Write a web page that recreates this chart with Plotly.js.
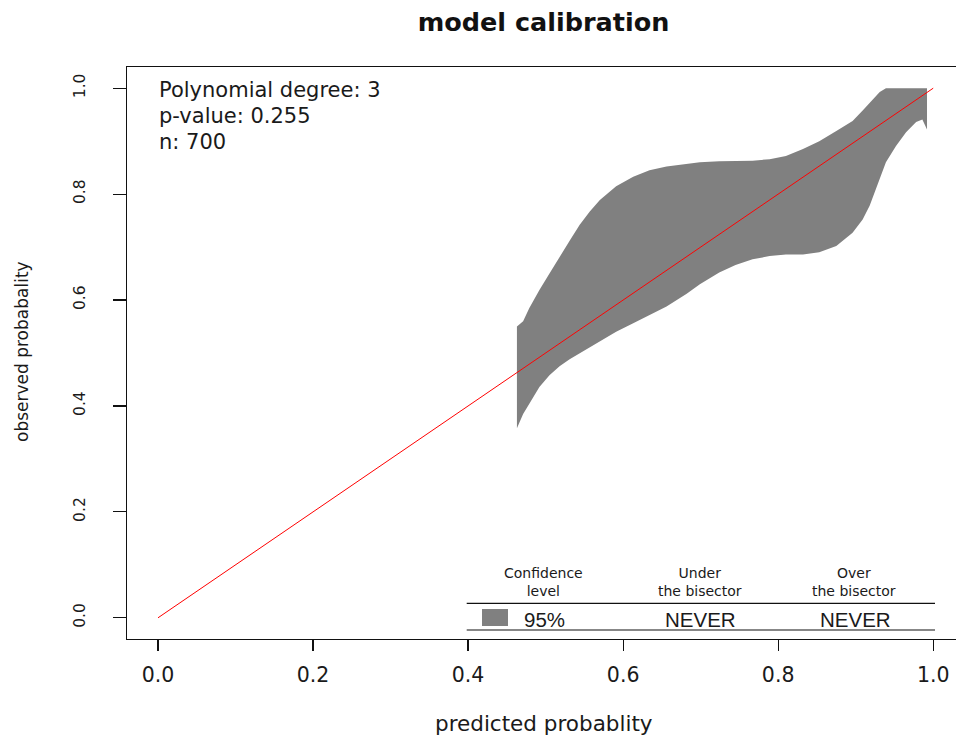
<!DOCTYPE html>
<html>
<head>
<meta charset="utf-8">
<script src="https://cdn.plot.ly/plotly-3.0.1.min.js"></script>
<style>html,body{margin:0;padding:0;background:#fff;}#chart{width:956px;height:736px;}</style>
</head>
<body>
<div id="chart"></div>
<script>
// ---- data ----
var bandX = [0.463, 0.471, 0.479, 0.492, 0.505, 0.518, 0.531, 0.544, 0.557, 0.570, 0.591, 0.613, 0.634, 0.656, 0.682, 0.699, 0.724, 0.745, 0.767, 0.789, 0.810, 0.832, 0.853, 0.875, 0.896, 0.909, 0.918, 0.931, 0.939, 0.952, 0.965, 0.978, 0.986, 0.992];
var bandUpper = [0.550, 0.560, 0.585, 0.619, 0.650, 0.682, 0.712, 0.742, 0.767, 0.789, 0.815, 0.833, 0.845, 0.852, 0.857, 0.860, 0.862, 0.863, 0.863, 0.866, 0.872, 0.885, 0.900, 0.919, 0.938, 0.958, 0.973, 0.993, 1.0, 1.0, 1.0, 1.0, 1.0, 1.0];
var bandLower = [0.358, 0.385, 0.404, 0.436, 0.458, 0.475, 0.488, 0.499, 0.510, 0.522, 0.540, 0.556, 0.572, 0.588, 0.612, 0.630, 0.652, 0.666, 0.677, 0.683, 0.686, 0.686, 0.690, 0.702, 0.727, 0.752, 0.778, 0.828, 0.860, 0.891, 0.917, 0.936, 0.941, 0.922];
var bisectorX = [0, 1];
var bisectorY = [0, 1];
var tickVals = [0, 0.2, 0.4, 0.6, 0.8, 1.0];
var tickText = ['0.0', '0.2', '0.4', '0.6', '0.8', '1.0'];
var infoLines = ['Polynomial degree: 3', 'p-value: 0.255', 'n: 700'];
var tableHeaders = ['Confidence<br>level', 'Under<br>the bisector', 'Over<br>the bisector'];
var tableRow = ['95%', 'NEVER', 'NEVER'];

// ---- layout helpers (pixel -> paper) ----
var W = 956, H = 736, ML = 127, MR = 0, MT = 67, MB = 97;
var PW = W - ML - MR, PH = H - MT - MB;
function px(x) { return (x - ML) / PW; }
function py(y) { return (H - MB - y) / PH; }
var FONT = 'DejaVu Sans';
var TXT = '#1a1a1a';

var traces = [
  {x: bandX, y: bandLower, type: 'scatter', mode: 'lines', line: {width: 0, color: '#808080'}, hoverinfo: 'skip', showlegend: false},
  {x: bandX, y: bandUpper, type: 'scatter', mode: 'lines', fill: 'tonexty', fillcolor: '#808080', line: {width: 0, color: '#808080'}, hoverinfo: 'skip', showlegend: false},
  {x: bisectorX, y: bisectorY, type: 'scatter', mode: 'lines', line: {width: 1, color: '#ff0000'}, showlegend: false}
];

var annotations = [];
// info lines
var infoY = [90, 116, 142];
infoLines.forEach(function (t, i) {
  annotations.push({text: t, xref: 'paper', yref: 'paper', x: px(157), y: py(infoY[i]), xanchor: 'left', yanchor: 'middle', showarrow: false, font: {family: FONT, size: 21, color: TXT}});
});
// table
var colX = [543, 700, 854];
tableHeaders.forEach(function (t, i) {
  annotations.push({text: t, xref: 'paper', yref: 'paper', x: px(colX[i]), y: py(582), xanchor: 'center', yanchor: 'middle', showarrow: false, font: {family: FONT, size: 14, color: TXT}});
});
var rowX = [544, 700, 855];
tableRow.forEach(function (t, i) {
  annotations.push({text: t, xref: 'paper', yref: 'paper', x: px(rowX[i]), y: py(619), xanchor: 'center', yanchor: 'middle', showarrow: false, font: {family: 'Liberation Sans', size: 20.5, color: TXT}});
});
// axis titles
annotations.push({text: 'predicted probablity', xref: 'paper', yref: 'paper', x: px(544), y: py(723), xanchor: 'center', yanchor: 'middle', showarrow: false, font: {family: FONT, size: 21.5, color: TXT}});
annotations.push({text: 'observed probabality', xref: 'paper', yref: 'paper', x: px(22), y: py(352), xanchor: 'center', yanchor: 'middle', textangle: -90, showarrow: false, font: {family: FONT, size: 17, color: TXT}});

var shapes = [
  {type: 'line', xref: 'paper', yref: 'paper', x0: px(466.7), x1: px(935), y0: py(603.3), y1: py(603.3), line: {color: '#111', width: 1.2}},
  {type: 'line', xref: 'paper', yref: 'paper', x0: px(466.7), x1: px(935), y0: py(630), y1: py(630), line: {color: '#111', width: 1.2}},
  {type: 'rect', xref: 'paper', yref: 'paper', x0: px(482), x1: px(508), y0: py(626), y1: py(609), fillcolor: '#808080', line: {width: 0}}
];

var layout = {
  width: W, height: H,
  margin: {l: ML, r: MR, t: MT, b: MB, pad: 0},
  paper_bgcolor: '#ffffff', plot_bgcolor: '#ffffff',
  showlegend: false,
  title: {text: 'model calibration', x: 543.5 / W, xanchor: 'center', xref: 'container', y: 1 - 22 / H, yref: 'container', yanchor: 'middle', font: {family: FONT, size: 25.5, weight: 'bold', color: '#111'}},
  xaxis: {
    range: [-0.04, -0.04 + PW / 775.2], fixedrange: true,
    showgrid: false, zeroline: false, showline: true, mirror: true, linecolor: '#111', linewidth: 1.2,
    ticks: 'outside', ticklen: 11, tickwidth: 1.2, tickcolor: '#111',
    tickvals: tickVals, ticktext: tickText, ticklabelstandoff: 6,
    tickfont: {family: FONT, size: 20.5, color: TXT}
  },
  yaxis: {
    range: [-0.04, 1.04], fixedrange: true,
    showgrid: false, zeroline: false, showline: true, mirror: false, linecolor: '#111', linewidth: 1.2,
    ticks: 'outside', ticklen: 13, tickwidth: 1.2, tickcolor: '#111',
    tickvals: tickVals, ticktext: tickText, tickangle: -90, ticklabelstandoff: 22,
    tickfont: {family: FONT, size: 15.5, color: TXT}
  },
  annotations: annotations,
  shapes: shapes
};

Plotly.newPlot('chart', traces, layout, {displayModeBar: false, staticPlot: true});
</script>
</body>
</html>
